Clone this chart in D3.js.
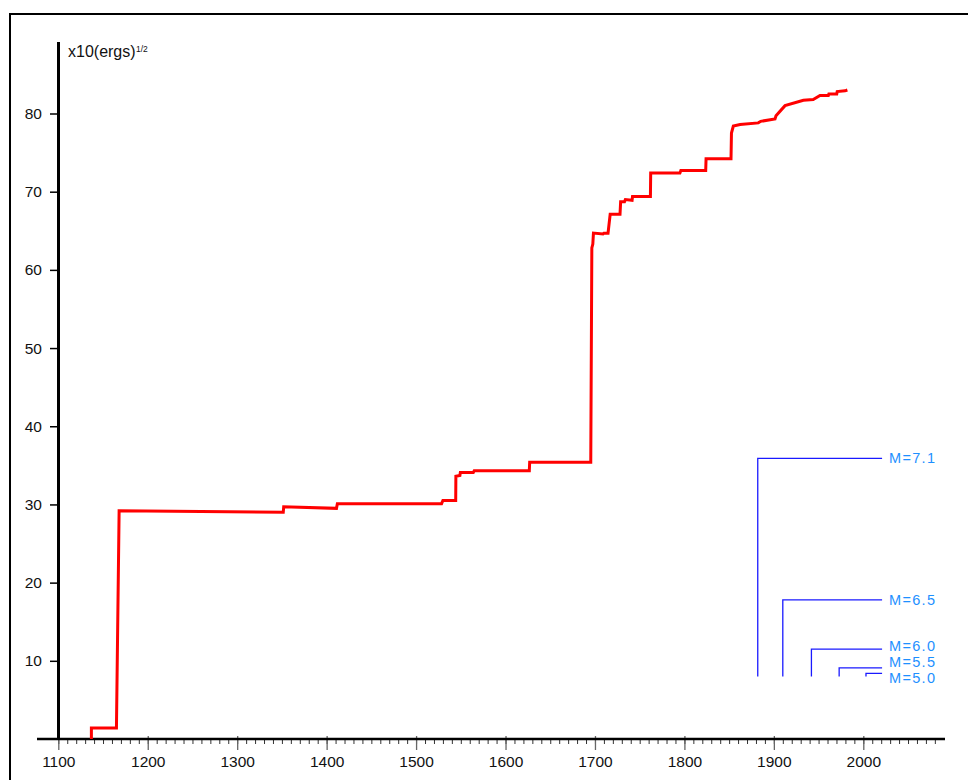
<!DOCTYPE html>
<html>
<head>
<meta charset="utf-8">
<script src="https://cdn.jsdelivr.net/npm/d3@7"></script>
<style>
  body { margin: 0; background: #fff; }
  svg { display: block; font-family: "Liberation Sans", Arial, sans-serif; }
</style>
</head>
<body>
<div id="chart"></div>
<script>
// cumulative strain release (x10 ergs^1/2)
var strainYears = [1137, 1137, 1165, 1168, 1351.5, 1352, 1411, 1412, 1528.5, 1530, 1544.3, 1544.5,
    1549, 1549.5, 1564, 1565, 1626.6, 1627, 1695.3, 1696.5, 1697.6, 1698.3, 1709, 1710, 1714.6,
    1717, 1728, 1728.7, 1733, 1734, 1741.5, 1742, 1762, 1762.3, 1795, 1796, 1823.8, 1824.2,
    1852.1, 1852.6, 1854.7, 1862.2, 1882.6, 1885.3, 1901.3, 1902.4, 1912.5, 1933, 1944, 1951.6,
    1960.9, 1961.5, 1970.3, 1970.8, 1979.6, 1982.2];
var strainValues = [0, 1.4, 1.4, 29.2, 29.0, 29.7, 29.5, 30.1, 30.1, 30.5, 30.5, 33.6,
    33.7, 34.1, 34.1, 34.3, 34.3, 35.4, 35.4, 62.8, 63.3, 64.7, 64.6, 64.7, 64.7,
    67.1, 67.1, 68.7, 68.7, 69.0, 68.9, 69.4, 69.4, 72.4, 72.4, 72.7, 72.7, 74.2,
    74.2, 77.5, 78.4, 78.6, 78.8, 79.0, 79.3, 79.7, 81.0, 81.7, 81.8, 82.3,
    82.3, 82.5, 82.5, 82.8, 82.9, 83.0];

var xTicks = [1100, 1200, 1300, 1400, 1500, 1600, 1700, 1800, 1900, 2000];
var yTicks = [10, 20, 30, 40, 50, 60, 70, 80];

// magnitude scale bars
var legendLabels = ["M=7.1", "M=6.5", "M=6.0", "M=5.5", "M=5.0"];
var legendYears = [1882, 1910, 1942, 1973, 2003];
var legendTops = [35.9, 17.8, 11.5, 9.1, 8.4];
var legendBase = 8.0;
var legendEnd = 2021;

var width = 968, height = 780;

var svg = d3.select("#chart").append("svg")
    .attr("width", width)
    .attr("height", height);

// frame (left and top edges visible)
svg.append("path")
    .attr("d", "M10,780V14H968")
    .attr("fill", "none")
    .attr("stroke", "#000")
    .attr("stroke-width", 2);

var x = d3.scaleLinear().domain([1100, 2000]).range([58.3, 863.3]);
var y = d3.scaleLinear().domain([0, 80]).range([739, 113.5]);

// x axis: major + minor ticks
var xMinor = svg.append("g")
    .attr("transform", "translate(0,739)")
    .call(d3.axisBottom(x).tickValues(d3.range(1100, 2081, 10)).tickSize(5).tickFormat(""));
xMinor.select(".domain").remove();
xMinor.selectAll("line").attr("stroke", "#333").attr("stroke-width", 1);

var xAxis = svg.append("g")
    .attr("transform", "translate(0,739)")
    .call(d3.axisBottom(x).tickValues(xTicks).tickSize(11).tickPadding(6).tickFormat(d3.format("d")));
xAxis.select(".domain").remove();
xAxis.selectAll("line").attr("stroke", "#666").attr("stroke-width", 1.3).attr("y1", -3);
xAxis.selectAll("text")
    .attr("font-size", 15.5)
    .attr("fill", "#111")
    .attr("font-family", "Liberation Sans, Arial, sans-serif");

svg.append("line")
    .attr("x1", 37).attr("x2", 945)
    .attr("y1", 739).attr("y2", 739)
    .attr("stroke", "#000").attr("stroke-width", 2.5);

// y axis
var yAxis = svg.append("g")
    .attr("transform", "translate(58,0)")
    .call(d3.axisLeft(y).tickValues(yTicks).tickSize(8).tickPadding(8));
yAxis.select(".domain").remove();
yAxis.selectAll("line").attr("stroke", "#000").attr("stroke-width", 1.5);
yAxis.selectAll("text")
    .attr("font-size", 15.5)
    .attr("fill", "#111")
    .attr("font-family", "Liberation Sans, Arial, sans-serif");

svg.append("line")
    .attr("x1", 58.5).attr("x2", 58.5)
    .attr("y1", 42).attr("y2", 740)
    .attr("stroke", "#000").attr("stroke-width", 3);

svg.append("text")
    .attr("x", 68).attr("y", 57)
    .attr("font-size", 16)
    .attr("fill", "#111")
    .text("x10(ergs)");
svg.append("text")
    .attr("x", 136).attr("y", 51.5)
    .attr("font-size", 8.5)
    .attr("fill", "#111")
    .text("1/2");

// strain curve
var strain = strainYears.map(function (d, i) { return [d, strainValues[i]]; });

var line = d3.line()
    .x(function (d) { return x(d[0]); })
    .y(function (d) { return y(d[1]); });

svg.append("path")
    .datum(strain)
    .attr("d", line)
    .attr("fill", "none")
    .attr("stroke", "#ff0000")
    .attr("stroke-width", 3)
    .attr("stroke-linejoin", "miter");

// magnitude scale bars
var labelShift = [0, 0, -3.6, -6.4, 4.7];

var bars = svg.append("g").selectAll("g")
    .data(legendLabels)
    .enter().append("g");

bars.append("path")
    .attr("d", function (d, i) {
        return "M" + x(legendYears[i]) + "," + y(legendBase) +
            "V" + y(legendTops[i]) + "H" + x(legendEnd);
    })
    .attr("fill", "none")
    .attr("stroke", "#1a1aff")
    .attr("stroke-width", 1.3);

bars.append("text")
    .attr("x", x(legendEnd) + 7)
    .attr("y", function (d, i) { return y(legendTops[i]) + labelShift[i]; })
    .attr("dy", "0.35em")
    .attr("font-size", 14.5)
    .attr("letter-spacing", 1.3)
    .attr("fill", "#1e90ff")
    .text(function (d) { return d; });
</script>
</body>
</html>
